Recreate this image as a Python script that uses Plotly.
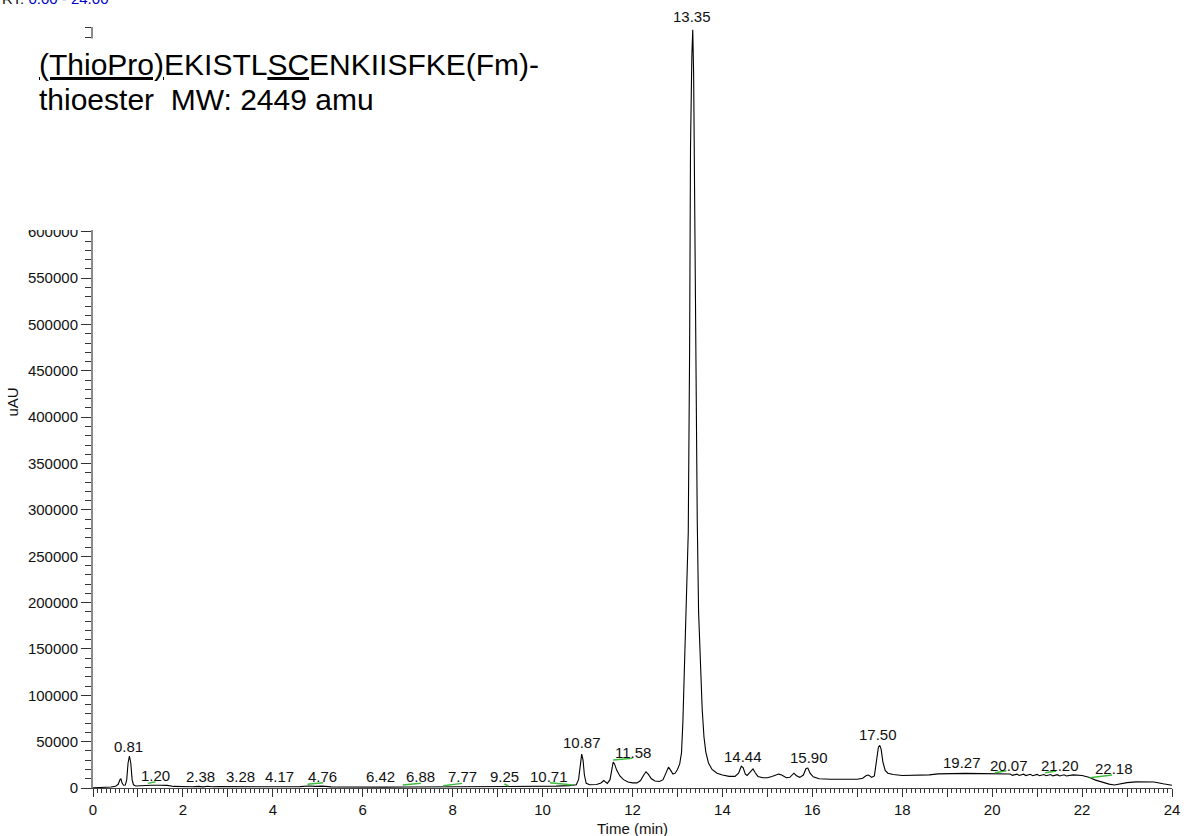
import plotly.graph_objects as go

# ---------------- data ----------------
time_min = [
    0.00, 0.20, 0.40, 0.50, 0.56, 0.60, 0.62, 0.65, 0.68, 0.72, 0.75, 0.78, 0.81, 0.84, 0.87, 0.90,
    0.95, 1.05, 1.15, 1.30, 1.50, 1.65, 1.80, 2.00, 2.20, 2.35, 2.45, 2.55, 2.65, 2.80, 3.00, 3.10,
    3.20, 3.35, 3.45, 3.60, 3.75, 3.90, 4.05, 4.20, 4.40, 4.60, 4.80, 4.95, 5.10, 5.30, 5.60, 6.00,
    6.50, 7.00, 7.50, 8.00, 8.50, 9.00, 9.50, 10.00, 10.30, 10.60, 10.75, 10.80, 10.84, 10.87, 10.90,
    10.93, 10.97, 11.05, 11.20, 11.30, 11.36, 11.40, 11.44, 11.50, 11.54, 11.57, 11.60, 11.65, 11.72,
    11.80, 11.90, 12.00, 12.10, 12.18, 12.25, 12.30, 12.35, 12.42, 12.50, 12.60, 12.68, 12.74, 12.80,
    12.85, 12.90, 12.95, 13.00, 13.05, 13.09, 13.12, 13.16, 13.20, 13.24, 13.27, 13.29, 13.32, 13.34,
    13.36, 13.38, 13.40, 13.42, 13.44, 13.47, 13.51, 13.55, 13.59, 13.63, 13.69, 13.77, 13.88, 14.00,
    14.15, 14.28, 14.36, 14.42, 14.46, 14.51, 14.55, 14.62, 14.68, 14.73, 14.79, 14.90, 15.00, 15.10,
    15.20, 15.25, 15.32, 15.42, 15.50, 15.56, 15.59, 15.64, 15.72, 15.80, 15.86, 15.90, 15.95, 16.02,
    16.15, 16.40, 16.70, 17.00, 17.12, 17.20, 17.25, 17.32, 17.38, 17.43, 17.47, 17.50, 17.53, 17.57,
    17.62, 17.68, 17.80, 18.00, 18.20, 18.40, 18.60, 18.80, 19.00, 19.40, 19.80, 20.00, 20.30, 20.40,
    20.45, 20.55, 20.60, 20.70, 20.75, 20.85, 20.90, 21.00, 21.05, 21.15, 21.20, 21.30, 21.35, 21.45,
    21.50, 21.60, 21.65, 21.80, 22.00, 22.15, 22.30, 22.45, 22.60, 22.72, 22.85, 23.00, 23.20, 23.40,
    23.60, 23.80, 24.00,
]
signal_uau = [
    300, 500, 1000, 1800, 4000, 9000, 9700, 5000, 3000, 3200, 9000, 27000, 34500, 27000, 9000, 3500,
    2200, 2500, 2800, 3000, 3000, 2800, 1700, 1200, 1300, 1800, 1200, 1900, 1300, 1500, 1400, 1900,
    1300, 2000, 1300, 1800, 1300, 1700, 1300, 1600, 1300, 1500, 2200, 1700, 2000, 1200, 1000, 900,
    900, 1000, 1100, 1200, 1200, 1200, 1300, 1600, 2000, 2600, 3500, 9000, 28000, 36500, 30000,
    14000, 5000, 3500, 3800, 5500, 8000, 6000, 5000, 9000, 22000, 28000, 26000, 19000, 13000,
    9000, 6500, 5500, 5500, 8000, 14000, 17500, 15000, 10000, 7500, 7000, 9000, 15000, 22500,
    19000, 15000, 16000, 20000, 26000, 38000, 70000, 140000, 205000, 275000, 470000, 690000, 790000, 818000,
    770000, 620000, 490000, 390000, 290000, 190000, 125000, 85000, 55000, 39000, 27000, 20000, 16000, 14000,
    12500, 12500, 16000, 23500, 22000, 15000, 13500, 17000, 20500, 16500, 12500, 11000, 11000, 12500,
    14500, 15000, 14000, 11000, 11500, 15000, 16000, 13500, 11500, 14000, 21000, 21500, 16000, 12000,
    10000, 9500, 9400, 9500, 10500, 13500, 14000, 11500, 13000, 30000, 44000, 46000, 42000, 28000,
    19000, 16000, 14500, 13500, 13500, 13800, 14200, 15200, 15500, 15800, 15500, 15400, 15200, 15100,
    13600, 15000, 13500, 14900, 13400, 14800, 13300, 14700, 13200, 14600, 13200, 14500, 13100, 14400,
    13000, 14300, 13000, 14200, 13500, 11500, 8500, 6000, 4200, 3300, 4500, 5800, 6600, 6800,
    6500, 4500, 3000,
]

peak_labels = ["0.81", "1.20", "2.38", "3.28", "4.17", "4.76", "6.42", "6.88", "7.77", "9.25", "10.71",
               "10.87", "11.58", "13.35", "14.44", "15.90", "17.50", "19.27", "20.07", "21.20", "22.18"]
label_time = [0.79, 1.39, 2.38, 3.29, 4.15, 5.10, 6.40, 7.28, 8.21, 9.16, 10.15,
              10.88, 12.01, 13.33, 14.46, 15.92, 17.46, 19.32, 20.38, 21.50, 22.72]
label_level = [45300, 14000, 12900, 12900, 12900, 12900, 11900, 11900, 11900, 11900, 11900,
               48600, 38800, 832000, 34500, 33400, 57200, 27000, 24800, 24800, 20500]

# integration baseline marks (start time, start level, end time, end level)
base_t0 = [1.22, 4.77, 6.89, 7.79, 9.15, 10.16, 11.57, 20.06, 21.18, 22.17]
base_v0 = [5000, 4000, 3200, 2500, 4300, 5700, 30200, 16500, 16500, 11100]
base_t1 = [1.39, 5.12, 7.29, 8.21, 9.24, 10.68, 12.00, 20.32, 21.42, 22.67]
base_v1 = [6800, 5700, 5000, 5000, 2200, 3200, 32000, 18700, 18300, 14000]

title_line1 = "<u>(ThioPro)</u>EKISTL<u>SC</u>ENKIISFKE(Fm)-"
title_line2 = "thioester\u00a0 MW: 2449 amu"

x_tick_vals = list(range(0, 25))
x_tick_text = [str(v) if v % 2 == 0 else "" for v in x_tick_vals]
y_tick_vals = list(range(0, 800001, 50000))
y_tick_text = [str(v) if v <= 600000 else "" for v in y_tick_vals]

# ---------------- layout geometry ----------------
W, H = 1190, 836
ML, MR, MT, MB = 93, 10, 27, 48
PW = W - ML - MR
PH = H - MT - MB
Y_TOP = 821000
FONT = "Arial, 'Liberation Sans', sans-serif"


def px_x(px):
    return (px - ML) / PW


def px_y(py):
    return (H - MB - py) / PH


fig = go.Figure()
fig.add_trace(go.Scatter(x=time_min, y=signal_uau, mode="lines",
                         line=dict(color="#000000", width=1.1), hoverinfo="x+y", showlegend=False))

shapes = []
for a, b, c, d in zip(base_t0, base_v0, base_t1, base_v1):
    shapes.append(dict(type="line", xref="x", yref="y", x0=a, y0=b, x1=c, y1=d,
                       line=dict(color="#3dbb3d", width=1.5)))
# white annotation box that hides the upper part of the intensity axis
shapes.append(dict(type="rect", xref="paper", yref="paper", layer="above",
                   x0=px_x(-2), x1=px_x(560), y0=px_y(230), y1=px_y(38.5),
                   fillcolor="white", line=dict(width=0)))

annotations = []
for txt, t, v in zip(peak_labels, label_time, label_level):
    annotations.append(dict(text=txt, x=t, xref="x", y=v / Y_TOP, yref="paper",
                            xanchor="center", yanchor="middle", showarrow=False,
                            font=dict(size=15, color="#111111", family=FONT)))
annotations.append(dict(text="RT: <span style='color:#0000c8'>0.00 - 24.00</span>",
                        x=px_x(-1), y=px_y(-1), xref="paper", yref="paper",
                        xanchor="left", yanchor="middle", showarrow=False,
                        font=dict(size=15, color="#111111", family=FONT)))
for line_txt, cy in ((title_line1, 64), (title_line2, 100)):
    annotations.append(dict(text=line_txt, x=px_x(38), y=px_y(cy), xref="paper", yref="paper",
                            xanchor="left", yanchor="middle", align="left", showarrow=False,
                            borderpad=0, font=dict(size=30, color="#000000", family=FONT)))
annotations.append(dict(text="uAU", x=px_x(11), y=px_y(402), xref="paper", yref="paper",
                        textangle=-90, xanchor="center", yanchor="middle", showarrow=False,
                        font=dict(size=15, color="#111111", family=FONT)))
annotations.append(dict(text="Time (min)", x=0.5, y=px_y(828), xref="paper", yref="paper",
                        xanchor="center", yanchor="middle", showarrow=False,
                        font=dict(size=15, color="#111111", family=FONT)))

fig.update_layout(
    width=W, height=H,
    margin=dict(l=ML, r=MR, t=MT, b=MB, pad=0),
    paper_bgcolor="white", plot_bgcolor="white",
    font=dict(family=FONT, size=15, color="#111111"),
    showlegend=False,
    shapes=shapes,
    annotations=annotations,
    xaxis=dict(range=[0, 24], showgrid=False, zeroline=False, showline=True,
               linecolor="#444444", linewidth=1,
               ticks="outside", tickmode="array", tickvals=x_tick_vals, ticktext=x_tick_text,
               ticklen=8, tickwidth=1, tickcolor="#333333",
               tickfont=dict(size=15, color="#111111", family=FONT),
               minor=dict(ticks="outside", tickmode="array",
                          tickvals=[i / 10 for i in range(0, 241) if i % 10 != 0],
                          ticklen=4, tickwidth=1, tickcolor="#333333")),
    yaxis=dict(range=[0, Y_TOP], showgrid=False, zeroline=False, showline=True,
               linecolor="#8a8a8a", linewidth=2,
               ticks="outside", tickmode="array", tickvals=y_tick_vals, ticktext=y_tick_text,
               ticklen=10, tickwidth=1, tickcolor="#333333",
               tickfont=dict(size=15, color="#111111", family=FONT),
               minor=dict(ticks="outside", tickmode="array",
                          tickvals=[v for v in range(10000, 820001, 10000) if v % 50000 != 0],
                          ticklen=6, tickwidth=1, tickcolor="#333333")),
)

fig.write_html("out.html")
